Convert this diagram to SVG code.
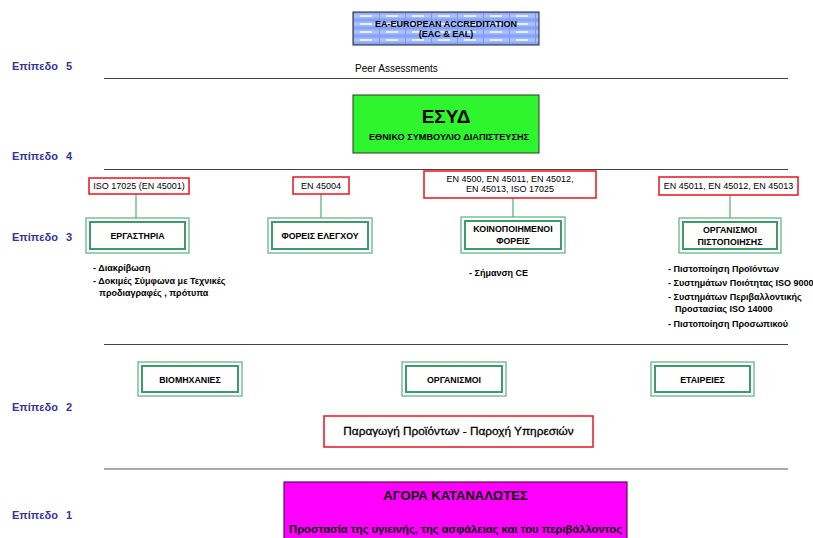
<svg xmlns="http://www.w3.org/2000/svg" width="813" height="538" viewBox="0 0 813 538">
<defs>
<linearGradient id="bv" x1="0" y1="0" x2="0" y2="1">
<stop offset="0" stop-color="#7f9ef5"/>
<stop offset="0.5" stop-color="#b3c6ff"/>
<stop offset="1" stop-color="#7f9ef5"/>
</linearGradient>
<pattern id="brick" x="353" y="12" width="26" height="8" patternUnits="userSpaceOnUse">
<rect width="26" height="8" fill="url(#bv)"/>
<rect x="7" y="3" width="12" height="2" fill="#eef3ff" opacity="0.9"/>
<rect x="0" y="0" width="1" height="8" fill="#7d98ee"/>
</pattern>
<style>
.t{font-family:"Liberation Sans",Arial,sans-serif;fill:#000}
.b{font-weight:bold}
.lvl{font-family:"Liberation Sans",Arial,sans-serif;font-weight:bold;font-size:11px;fill:#333399}
.rule{stroke:#444;stroke-width:1.2}
.red{fill:#fff;stroke:#e8141e;stroke-width:1.5}
.go{fill:#fff;stroke:#5aae84;stroke-width:1.2}
.gi{fill:none;stroke:#3c9a6c;stroke-width:2}
.con{stroke:#79c29c;stroke-width:1.6;fill:none}
.bl{font-size:9px}
.lb{font-size:8.8px}
</style>
</defs>

<g id="levels">
<text class="lvl" x="12" y="70">Επίπεδο<tspan x="66">5</tspan></text>
<text class="lvl" x="12" y="160">Επίπεδο<tspan x="66">4</tspan></text>
<text class="lvl" x="12" y="241">Επίπεδο<tspan x="66">3</tspan></text>
<text class="lvl" x="12" y="411">Επίπεδο<tspan x="66">2</tspan></text>
<text class="lvl" x="12" y="519">Επίπεδο<tspan x="66">1</tspan></text>
</g>

<g id="rules">
<line class="rule" x1="104" y1="78.5" x2="788" y2="78.5"/>
<line class="rule" x1="104" y1="169.5" x2="788" y2="169.5"/>
<line class="rule" x1="104" y1="344.5" x2="788" y2="344.5"/>
<line x1="104" y1="469" x2="788" y2="469" stroke="#555" stroke-width="1.2"/>
</g>

<g id="ea">
<rect x="353" y="12" width="186" height="33" fill="url(#brick)" stroke="#222" stroke-width="1"/>
<text class="t b" x="446" y="27" font-size="9" text-anchor="middle">EA-EUROPEAN ACCREDITATION</text>
<text class="t b" x="446" y="37" font-size="9" text-anchor="middle">(EAC &amp; EAL)</text>
</g>

<text class="t" x="355" y="72" font-size="10">Peer Assessments</text>

<g id="esyd">
<rect x="353" y="95" width="186" height="58" fill="#2ef52e" stroke="#333" stroke-width="1"/>
<text class="t b" x="446" y="123" font-size="19" text-anchor="middle">ΕΣΥΔ</text>
<text class="t b" x="369" y="140" font-size="8.4" textLength="160" lengthAdjust="spacingAndGlyphs">ΕΘΝΙΚΟ ΣΥΜΒΟΥΛΙΟ ΔΙΑΠΙΣΤΕΥΣΗΣ</text>
</g>

<g id="connectors">
<line class="con" x1="136" y1="194" x2="136" y2="218"/>
<line class="con" x1="321" y1="194" x2="321" y2="219"/>
<line class="con" x1="513" y1="198" x2="513" y2="217"/>
<line class="con" x1="730" y1="195" x2="730" y2="218"/>
</g>

<g id="std1">
<rect class="red" x="89" y="178" width="100" height="16"/>
<text class="t" x="139" y="189" font-size="9" text-anchor="middle">ISO 17025 (EN 45001)</text>
</g>
<g id="std2">
<rect class="red" x="293" y="177" width="56" height="17"/>
<text class="t" x="321" y="189" font-size="9" text-anchor="middle">EN 45004</text>
</g>
<g id="std3">
<rect class="red" x="424" y="171" width="172" height="27"/>
<text class="t" x="510" y="182" font-size="9" text-anchor="middle">EN 4500, EN 45011, EN 45012,</text>
<text class="t" x="510" y="192" font-size="9" text-anchor="middle">EN 45013, ISO 17025</text>
</g>
<g id="std4">
<rect class="red" x="659" y="177" width="139" height="18"/>
<text class="t" x="728.5" y="189" font-size="9" text-anchor="middle">EN 45011, EN 45012, EN 45013</text>
</g>

<g id="labs">
<rect class="go" x="86" y="218" width="103" height="35"/>
<rect class="gi" x="90" y="222" width="95" height="27"/>
<text class="t b lb" x="137.5" y="239" text-anchor="middle">ΕΡΓΑΣΤΗΡΙΑ</text>
<text class="t b bl" x="93" y="271">- Διακρίβωση</text>
<text class="t b bl" x="93" y="284">- Δοκιμές  Σύμφωνα με Τεχνικές</text>
<text class="t b bl" x="99" y="296">προδιαγραφές , πρότυπα</text>
</g>

<g id="inspection">
<rect class="go" x="268" y="218" width="104" height="35"/>
<rect class="gi" x="272" y="222" width="96" height="27"/>
<text class="t b lb" x="320" y="239" text-anchor="middle">ΦΟΡΕΙΣ ΕΛΕΓΧΟΥ</text>
</g>

<g id="notified">
<rect class="go" x="461" y="217" width="104" height="36"/>
<rect class="gi" x="465" y="221" width="96" height="28"/>
<text class="t b lb" x="513" y="232" text-anchor="middle">ΚΟΙΝΟΠΟΙΗΜΕΝΟΙ</text>
<text class="t b lb" x="513" y="244" text-anchor="middle">ΦΟΡΕΙΣ</text>
<text class="t b bl" x="469" y="276">- Σήμανση CE</text>
</g>

<g id="certification">
<rect class="go" x="679" y="218" width="102" height="35"/>
<rect class="gi" x="683" y="222" width="94" height="27"/>
<text class="t b lb" x="730" y="233" text-anchor="middle">ΟΡΓΑΝΙΣΜΟΙ</text>
<text class="t b lb" x="730" y="245" text-anchor="middle">ΠΙΣΤΟΠΟΙΗΣΗΣ</text>
<text class="t b bl" x="668" y="272">- Πιστοποίηση Προϊόντων</text>
<text class="t b bl" x="668" y="286">- Συστημάτων Ποιότητας ISO 9000</text>
<text class="t b bl" x="668" y="300">- Συστημάτων Περιβαλλοντικής</text>
<text class="t b bl" x="675" y="312">Προστασίας ISO 14000</text>
<text class="t b bl" x="668" y="327">- Πιστοποίηση Προσωπικού</text>
</g>

<g id="industries">
<rect class="go" x="138" y="362" width="104" height="34"/>
<rect class="gi" x="142" y="366" width="96" height="26"/>
<text class="t b lb" x="190" y="383" text-anchor="middle">ΒΙΟΜΗΧΑΝΙΕΣ</text>
</g>
<g id="organisations">
<rect class="go" x="402" y="362" width="104" height="34"/>
<rect class="gi" x="406" y="366" width="96" height="26"/>
<text class="t b lb" x="454" y="383" text-anchor="middle">ΟΡΓΑΝΙΣΜΟΙ</text>
</g>
<g id="companies">
<rect class="go" x="651" y="362" width="103" height="34"/>
<rect class="gi" x="655" y="366" width="95" height="26"/>
<text class="t b lb" x="702.5" y="383" text-anchor="middle">ΕΤΑΙΡΕΙΕΣ</text>
</g>

<g id="production">
<rect class="red" x="324" y="416" width="269" height="31"/>
<text class="t" x="458.5" y="435" font-size="11.8" text-anchor="middle" stroke="#000" stroke-width="0.3">Παραγωγή Προϊόντων - Παροχή Υπηρεσιών</text>
</g>

<g id="market">
<rect x="284" y="482" width="343" height="60" fill="#ff00ff" stroke="#5a1050" stroke-width="1.2"/>
<text class="t b" x="455.5" y="500" font-size="13" text-anchor="middle">ΑΓΟΡΑ ΚΑΤΑΝΑΛΩΤΕΣ</text>
<text class="t b" x="455.5" y="533" font-size="11.2" text-anchor="middle">Προστασία της υγιεινής, της ασφάλειας και του περιβάλλοντος</text>
</g>
</svg>
